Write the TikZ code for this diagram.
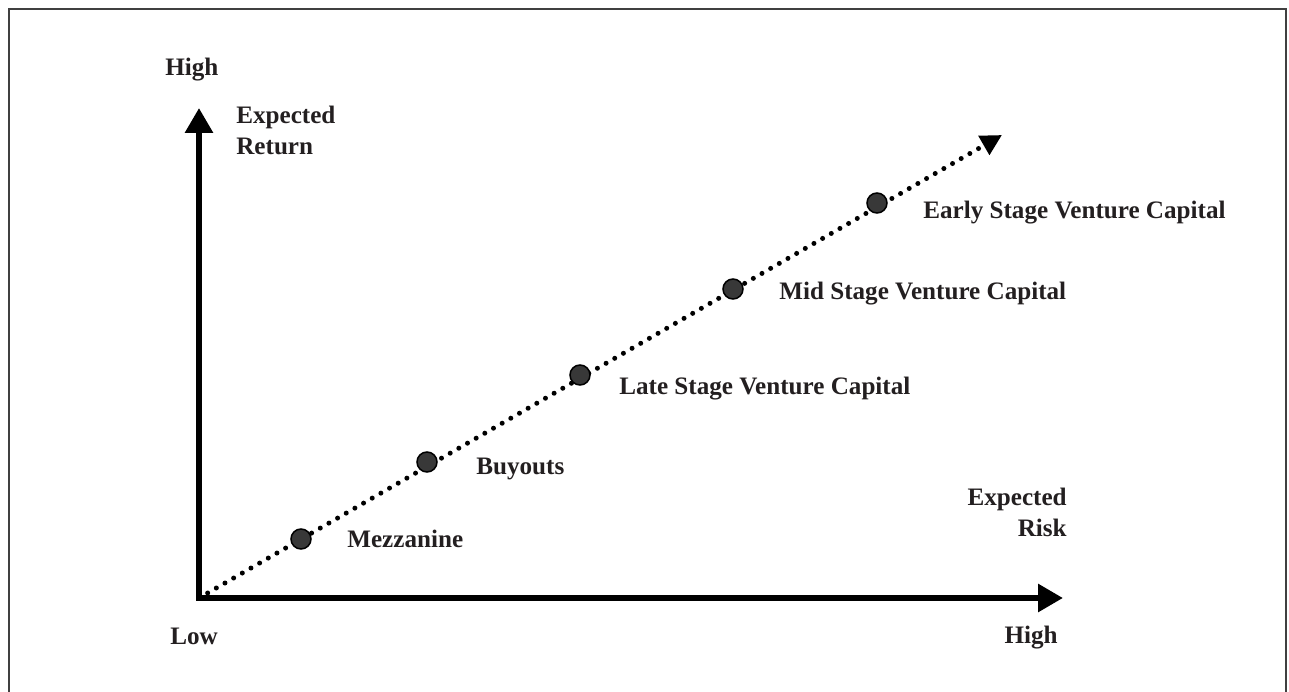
\documentclass[tikz,border=0pt]{standalone}
\usepackage{fontspec}
\setmainfont{Liberation Serif}
\usepackage{tikz}
\usetikzlibrary{arrows.meta}
\definecolor{ink}{HTML}{231F20}
\tikzstyle{axis} = [line width=0.12cm, -{Triangle[length=0.5cm, width=0.54cm]}]
\tikzstyle{trend} = [line width=0.1cm, line cap=round, dash pattern=on 0pt off 0.2cm, -{Triangle[length=0.42cm, width=0.42cm]}]
\tikzstyle{stage} = [circle, draw=black, fill=black!78, line width=0.03cm, minimum size=0.4cm, inner sep=0pt]
\tikzstyle{lbl} = [inner sep=0pt, text=ink, font=\fontsize{14.3}{18}\selectfont\bfseries]

\begin{document}
\begin{tikzpicture}[x=0.02cm, y=-0.02cm]
    \useasboundingbox (0,0) rectangle (1289,692);
    \draw [black!75, line width=0.04cm] (9,9) rectangle (1286,720);

    \coordinate (origin) at (199,598);
    \coordinate (ytip)   at (199,108);
    \coordinate (xtip)   at (1063,598);
    \coordinate (ttip)   at (1002,135);

    % dotted trend line goes under the stage dots
    \draw [trend] (origin) -- (ttip);
    \draw [axis]  ([yshift=-0.06cm]origin) -- (ytip);
    \draw [axis]  ([xshift=-0.06cm]origin) -- (xtip);

    \node (mezz)  [stage] at (301,539) {};
    \node (buy)   [stage] at (427,462) {};
    \node (late)  [stage] at (580,375) {};
    \node (mid)   [stage] at (733,289) {};
    \node (early) [stage] at (877,203) {};

    \node (mezzlbl)  [lbl, anchor=base west] at (347,548) {Mezzanine};
    \node (buylbl)   [lbl, anchor=base west] at (476,475) {Buyouts};
    \node (latelbl)  [lbl, anchor=base west] at (619,395) {Late Stage Venture Capital};
    \node (midlbl)   [lbl, anchor=base west] at (779,300) {Mid Stage Venture Capital};
    \node (earlylbl) [lbl, anchor=base west] at (923,219) {Early Stage Venture Capital};

    % two-line labels: base sits on the last line
    \node (yhigh) [lbl, anchor=base west] at (165,76) {High};
    \node (yname) [lbl, anchor=base west, align=left] at (236,155) {Expected\\Return};
    \node (low)   [lbl, anchor=base west] at (170,644) {Low};
    \node (xhigh) [lbl, anchor=base east] at (1058,643) {High};
    \node (xname) [lbl, anchor=base east, align=right] at (1067,537) {Expected\\Risk};
\end{tikzpicture}
\end{document}
